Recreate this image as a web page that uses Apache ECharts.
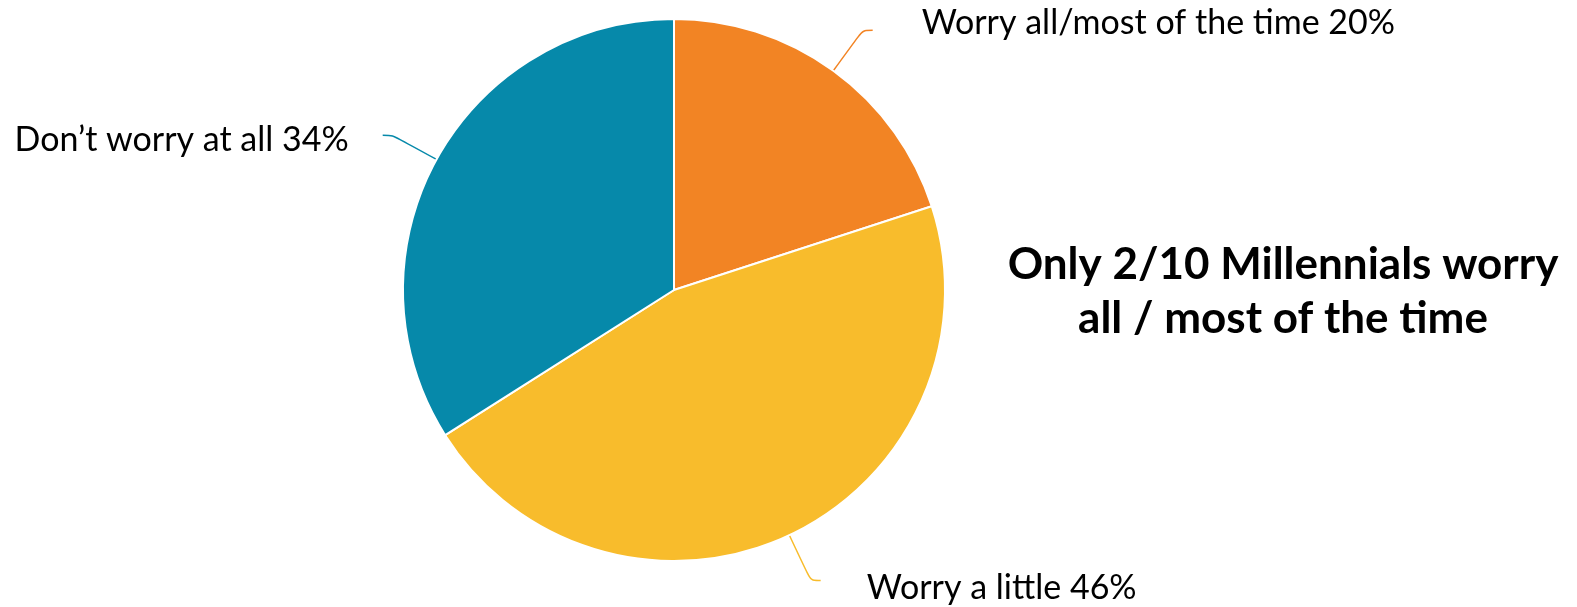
<!DOCTYPE html>
<html>
<head>
<meta charset="utf-8">
<script src="https://cdn.jsdelivr.net/npm/echarts@6/dist/echarts.min.js"></script>
<style>
  html, body { margin: 0; padding: 0; background: #fff; }
  #chart { width: 1577px; height: 607px; }
</style>
</head>
<body>
<div id="chart"></div>
<script>
// data
const categories = ['Worry all/most of the time', 'Worry a little', 'Don\u2019t worry at all']
const shares = [20, 46, 34]
const sliceColors = ['#F28424', '#F8BC2C', '#0689AA']
const headline = 'Only 2/10 Millennials worry\nall / most of the time'

const labelPad = [[0, 0, 0, 44], [0, 0, 0, 41], [0, 29, 0, 0]]
const labelShiftY = [-7, 8, 5]

const chart = echarts.init(document.getElementById('chart'))
chart.setOption({
  animation: false,
  title: {
    text: headline,
    left: 1278,
    top: 233,
    textAlign: 'center',
    textStyle: {
      fontFamily: 'Lato',
      fontWeight: 'bold',
      fontSize: 44,
      lineHeight: 54,
      color: '#000'
    }
  },
  series: [
    {
      type: 'pie',
      center: [674, 290],
      radius: 271,
      startAngle: 90,
      clockwise: true,
      itemStyle: {
        borderColor: '#fff',
        borderWidth: 2
      },
      label: {
        show: true,
        formatter: '{b} {c}%',
        fontFamily: 'Lato',
        fontSize: 34,
        color: '#000'
      },
      labelLine: {
        show: true,
        length: 50,
        length2: 10,
        smooth: 0.3,
        lineStyle: { width: 1.5 }
      },
      labelLayout: function (params) {
        return { dy: labelShiftY[params.dataIndex] }
      },
      data: categories.map((name, i) => ({
        name: name,
        value: shares[i],
        itemStyle: { color: sliceColors[i] },
        label: { padding: labelPad[i] }
      }))
    }
  ]
})
</script>
</body>
</html>
